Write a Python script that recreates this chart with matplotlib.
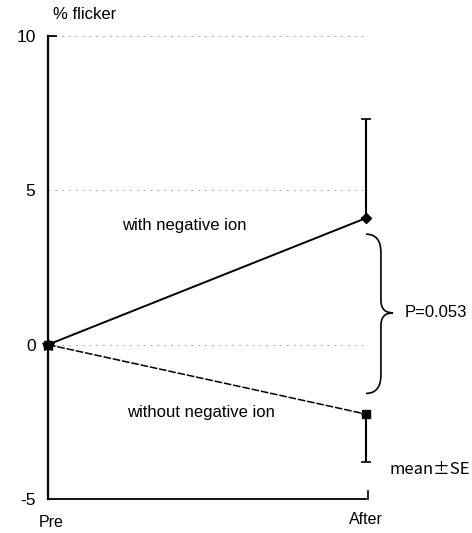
import matplotlib.pyplot as plt
from matplotlib.path import Path
from matplotlib.patches import PathPatch

plt.rcParams['font.family'] = ['Liberation Sans', 'DejaVu Sans']

# 数据
time_labels = ['Pre', 'After']
with_ion_mean = [0, 4.1]
with_ion_se_up = [0, 3.2]
without_ion_mean = [0, -2.25]
without_ion_se_down = [0, 1.55]
y_ticks = [-5, 0, 5, 10]
p_text = 'P=0.053'

fig = plt.figure(figsize=(4.72, 5.33), dpi=100)
ax = fig.add_axes([0.1017, 0.0638, 0.6737, 0.8687])
x = [0, 1]

# 网格线（点线）
for yv in [0, 5, 10]:
    ax.plot([0, 1], [yv, yv], color='#aaaaaa', lw=0.7, ls=(0, (2, 5)), zorder=1)

# with negative ion: 实线 + 菱形, 只画上误差
ax.plot(x, with_ion_mean, color='black', lw=1.4, marker='D', markersize=5,
        zorder=3, clip_on=False)
ax.errorbar(x[1:], with_ion_mean[1:], yerr=[[0], with_ion_se_up[1:]], fmt='none',
            ecolor='black', elinewidth=1.5, capsize=3.5, capthick=1.2, zorder=3,
            clip_on=False)

# without negative ion: 虚线 + 方块, 只画下误差
ax.plot(x, without_ion_mean, color='black', lw=1.1, ls=(0, (5, 1.2)), marker='s',
        markersize=6, zorder=3, clip_on=False)
ax.errorbar(x[1:], without_ion_mean[1:], yerr=[without_ion_se_down[1:], [0]], fmt='none',
            ecolor='black', elinewidth=1.5, capsize=3.5, capthick=1.2, zorder=3,
            clip_on=False)
ax.plot([0], [0], marker='*', markersize=9, color='black', clip_on=False, zorder=4)

ax.set_xlim(0, 1)
ax.set_ylim(-5, 10)
ax.set_yticks(y_ticks)
ax.set_yticklabels([str(v) for v in y_ticks], fontsize=12.5)
ax.set_xticks([])
ax.tick_params(axis='y', length=0, pad=9)
ax.spines['top'].set_visible(False)
ax.spines['right'].set_visible(False)
ax.spines['left'].set_linewidth(1.6)
ax.spines['bottom'].set_linewidth(1.3)

# 顶部和右下角的小刻度
ax.plot([0, 0.025], [10, 10], color='black', lw=1.3, clip_on=False)
ax.plot([1.005, 1.005], [-5, -4.75], color='black', lw=1.2, clip_on=False)

# 文字
ax.text(0.115, 10.68, '% flicker', fontsize=12, ha='center', va='center')
ax.text(0.01, -5.75, time_labels[0], fontsize=11.5, ha='center', va='center')
ax.text(1.0, -5.65, time_labels[1], fontsize=11.5, ha='center', va='center')
ax.text(0.43, 3.87, 'with negative ion', fontsize=12, ha='center', va='center')
ax.text(0.48, -2.19, 'without negative ion', fontsize=12, ha='center', va='center')
ax.text(1.075, -4.05, 'mean\u00b1SE', fontsize=12, ha='left', va='center', clip_on=False,
        family=['Noto Sans CJK JP', 'DejaVu Sans'])

# 大括号
x0, x1, x2 = 1.0, 1.047, 1.085
ytop, ybot, ymid = 3.58, -1.58, 1.03
verts = [(x0, ytop), (x1, ytop), (x1, ytop - 0.6),
         (x1, ymid + 0.4), (x1, ymid), (x2, ymid),
         (x2, ymid), (x1, ymid), (x1, ymid - 0.4),
         (x1, ybot + 0.6), (x1, ybot), (x0, ybot)]
codes = [Path.MOVETO, Path.CURVE3, Path.CURVE3,
         Path.LINETO, Path.CURVE3, Path.CURVE3,
         Path.MOVETO, Path.CURVE3, Path.CURVE3,
         Path.LINETO, Path.CURVE3, Path.CURVE3]
brace = PathPatch(Path(verts, codes), fill=False, lw=1.2, edgecolor='black', clip_on=False)
ax.add_patch(brace)
ax.text(1.123, ymid, p_text, fontsize=12, ha='left', va='center', clip_on=False)

fig.savefig('out.png', dpi=100)
